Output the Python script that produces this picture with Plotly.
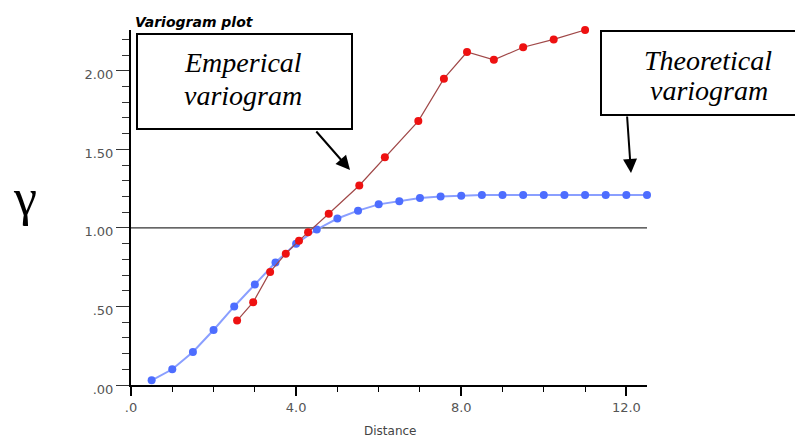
import plotly.graph_objects as go

# Theoretical variogram (blue)
theo_x = [0.5, 1.0, 1.5, 2.0, 2.5, 3.0, 3.5, 4.0, 4.5, 5.0, 5.5, 6.0, 6.5,
          7.0, 7.5, 8.0, 8.5, 9.0, 9.5, 10.0, 10.5, 11.0, 11.5, 12.0, 12.5]
theo_y = [0.03, 0.10, 0.21, 0.35, 0.50, 0.64, 0.78, 0.90, 0.99, 1.06, 1.11, 1.15, 1.17,
          1.19, 1.20, 1.205, 1.21, 1.21, 1.21, 1.21, 1.21, 1.21, 1.21, 1.21, 1.21]

# Empirical variogram (red)
emp_x = [2.57, 2.96, 3.37, 3.75, 4.07, 4.29, 4.79, 5.53, 6.15, 6.96, 7.58, 8.14,
         8.79, 9.50, 10.24, 11.0]
emp_y = [0.41, 0.527, 0.72, 0.836, 0.919, 0.973, 1.09, 1.27, 1.45, 1.68, 1.95, 2.12,
         2.07, 2.15, 2.20, 2.26]

x_tickvals = [0, 4, 8, 12]
x_ticktext = [".0", "4.0", "8.0", "12.0"]
y_tickvals = [0, 0.5, 1.0, 1.5, 2.0]
y_ticktext = [".00", ".50", "1.00", "1.50", "2.00"]
ref_level = 1.0

# plot area in window pixels (page has an 8px body margin)
PL, PR, PT, PB = 131, 647, 30, 385
OFF = 8


def px(xw):
    return (xw - PL) / (PR - PL)


def py(yw):
    return (PB - yw) / (PB - PT)


fig = go.Figure()
fig.add_trace(go.Scatter(
    x=theo_x, y=theo_y, mode="lines+markers",
    line=dict(color="#8a9fff", width=2),
    marker=dict(color="#4d6dff", size=8),
    cliponaxis=False, showlegend=False))
fig.add_trace(go.Scatter(
    x=emp_x, y=emp_y, mode="lines+markers",
    line=dict(color="#a04848", width=1.2),
    marker=dict(color="#ee1111", size=8),
    cliponaxis=False, showlegend=False))

fig.add_shape(type="line", xref="x", yref="y", x0=0, x1=12.5, y0=ref_level, y1=ref_level,
              line=dict(color="#333333", width=1.3), layer="below")

tickfont = dict(family="DejaVu Sans", size=13, color="#555555")

fig.update_xaxes(
    range=[0, 12.5], showline=True, linecolor="black", linewidth=2,
    showgrid=False, zeroline=False, ticks="outside", ticklen=9, tickwidth=1.5,
    tickcolor="black", tickmode="array", tickvals=x_tickvals, ticktext=x_ticktext,
    tickfont=tickfont,
    minor=dict(ticks="outside", ticklen=5, tick0=0, dtick=1, tickcolor="black", tickwidth=1.2),
)
fig.update_yaxes(
    range=[0, 2.26], showline=True, linecolor="black", linewidth=2,
    showgrid=False, zeroline=False, ticks="outside", ticklen=13, tickwidth=1.2,
    tickcolor="#333333", tickmode="array", tickvals=y_tickvals, ticktext=y_ticktext,
    tickfont=tickfont, ticklabelshift=4,
    minor=dict(ticks="outside", ticklen=7, tick0=0, dtick=0.1, tickcolor="#333333", tickwidth=1.2),
)

serif = dict(family="Liberation Serif", size=28, color="black", style="italic")

annotations = [
    dict(text="Variogram plot", xref="paper", yref="paper", x=px(133), y=py(22),
         xanchor="left", yanchor="middle", showarrow=False,
         font=dict(family="DejaVu Sans", size=14, color="black", weight="bold", style="italic")),
    dict(text="γ", xref="paper", yref="paper", x=px(25), y=py(197),
         xanchor="center", yanchor="middle", showarrow=False,
         font=dict(family="Liberation Serif", size=52, color="black")),
    dict(text="Distance", xref="paper", yref="paper", x=px(390), y=py(431),
         xanchor="center", yanchor="middle", showarrow=False,
         font=dict(family="DejaVu Sans", size=12, color="#444444")),
    dict(text="Emperical", xref="paper", yref="paper", x=px(243), y=py(63),
         xanchor="center", yanchor="middle", showarrow=False, font=serif),
    dict(text="variogram", xref="paper", yref="paper", x=px(243), y=py(96),
         xanchor="center", yanchor="middle", showarrow=False, font=serif),
    dict(text="Theoretical", xref="paper", yref="paper", x=px(708), y=py(60),
         xanchor="center", yanchor="middle", showarrow=False, font=serif),
    dict(text="variogram", xref="paper", yref="paper", x=px(709), y=py(90),
         xanchor="center", yanchor="middle", showarrow=False, font=serif),
    dict(text="", xref="paper", yref="paper", x=px(350), y=py(170),
         ax=-35, ay=-40, axref="pixel", ayref="pixel", showarrow=True,
         arrowhead=2, arrowsize=1.4, arrowwidth=2, arrowcolor="black"),
    dict(text="", xref="paper", yref="paper", x=px(631), y=py(173),
         ax=-4, ay=-58, axref="pixel", ayref="pixel", showarrow=True,
         arrowhead=2, arrowsize=1.4, arrowwidth=2, arrowcolor="black"),
]

for (x0, x1, y0, y1) in [(137, 352, 129, 34), (601, 812, 115, 31)]:
    fig.add_shape(type="rect", xref="paper", yref="paper",
                  x0=px(x0), x1=px(x1), y0=py(y0), y1=py(y1),
                  line=dict(color="black", width=2), fillcolor="white", layer="above")

W, H = 803 - OFF, 438 - OFF
fig.update_layout(
    width=W, height=H,
    margin=dict(l=PL - OFF, r=W - (PR - OFF), t=PT - OFF, b=H - (PB - OFF)),
    paper_bgcolor="white", plot_bgcolor="white",
    annotations=annotations,
)

fig.write_html("out.html")
